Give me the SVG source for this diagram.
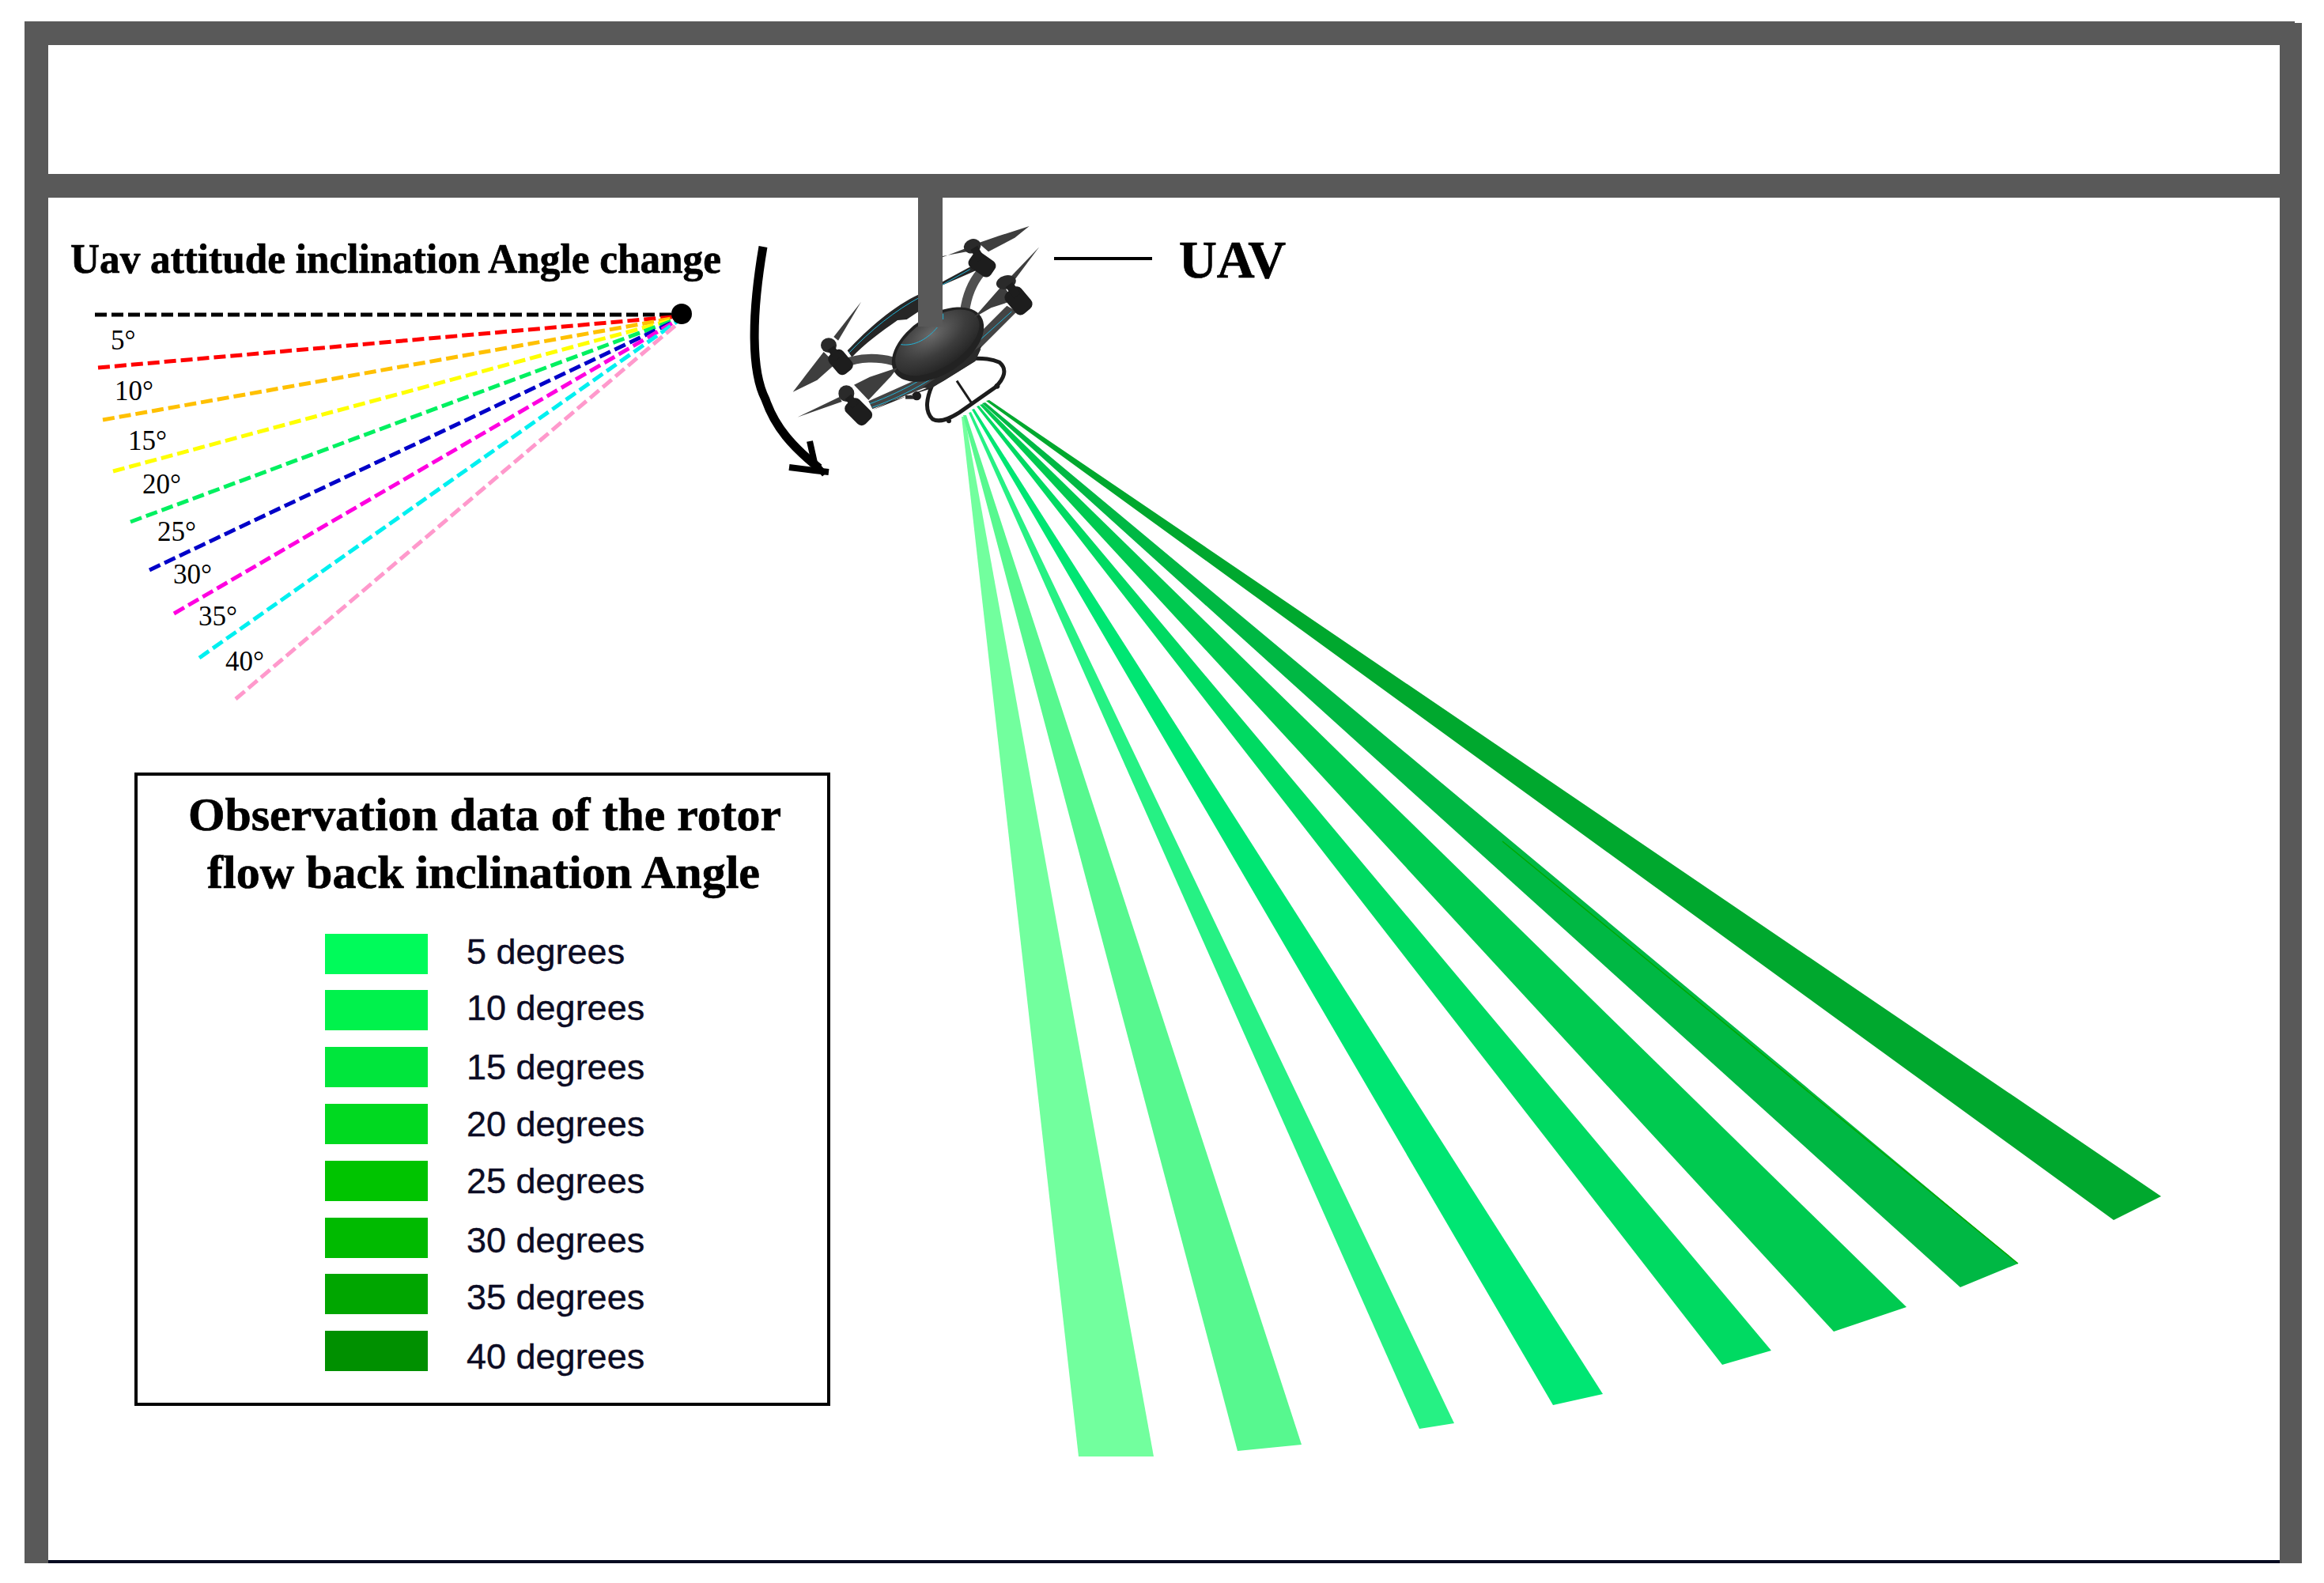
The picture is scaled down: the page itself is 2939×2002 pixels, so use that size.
<svg xmlns="http://www.w3.org/2000/svg" width="2939" height="2002" viewBox="0 0 2939 2002">
<style>
.serif{font-family:"Liberation Serif","Times New Roman",serif}
.bold{font-weight:700;fill:#000;stroke:#000;stroke-width:.7}
.deg{font-size:35px;fill:#000}
.leg{font-family:"Liberation Sans",Arial,sans-serif;font-size:45px;fill:#0c0c24;stroke:#0c0c24;stroke-width:.4}
.d{fill:none;stroke-width:5;stroke-dasharray:15 6}
.arm{fill:none;stroke-linecap:round}
.cy{fill:none;stroke:#1fb4d8;stroke-width:3}
.mt{fill:#1d1d1d}
.cap{fill:#2a2a2a}
.bl{fill:#3e3e3e}
</style>
<defs>
<radialGradient id="body" cx="0.5" cy="0.3" r="0.8"><stop offset="0" stop-color="#6a6a6a"/><stop offset="0.5" stop-color="#3c3c3c"/><stop offset="1" stop-color="#1e1e1e"/></radialGradient>
</defs>
<rect width="2939" height="2002" fill="#fff"/>
<g id="frame">
<rect x="61" y="1973" width="2822" height="4" fill="#060b20"/>
<path d="M31 27H2902V29H2911V1977H2883V250H1192V413H1161V250H61V1977H31ZM61 57V220H2883V57Z" fill="#595959" fill-rule="evenodd"/>
</g>
<g id="flow-beams">
<polygon points="1216,527 1220,527 1459,1842 1364,1842" fill="#72ff9e"/>
<polygon points="1218,525 1222,525 1646,1827 1565,1835" fill="#57f88f"/>
<polygon points="1225,522 1228,521 1839,1800 1795,1807" fill="#26f184"/>
<polygon points="1229,518 1232,517 2027,1763 1964,1777" fill="#00e673"/>
<polygon points="1235,514 1238,513 2240,1708 2178,1726" fill="#00da62"/>
<polygon points="1239,512 1243,511 2411,1653 2319,1684" fill="#00ca50"/>
<polygon points="1242,510 1246,509 2552,1598 2479,1628" fill="#00b844"/>
<line x1="1900" y1="1064" x2="2552" y2="1598" stroke="#00a800" stroke-width="1.5"/>
<polygon points="1247,507 1251,506 2733,1513 2673,1543" fill="#00a82e"/>
</g>
<g id="uav" transform="translate(1000 270) scale(0.33333)">
<g id="uav-arms">
<path d="M215 520C290 440 390 350 490 305L700 192L712 212L575 272L485 372L440 402L405 405C340 450 280 495 232 545Z" fill="#262626"/>
<path class="cy" d="M222 528C300 445 400 365 490 318L680 212"/>
<path class="arm" d="M205 568C260 545 330 545 385 560" stroke="#4b4b4b" stroke-width="32"/>
<path class="arm" d="M660 372C668 310 690 260 722 222" stroke="#505050" stroke-width="36"/>
<path d="M295 712L500 620L690 480L820 350L858 372L720 510L560 640L310 742Z" fill="#444"/>
<path d="M312 745L560 645L722 512L700 560L580 635L520 668L380 712Z" fill="#232323"/>
<path class="cy" d="M310 735C440 690 590 605 690 505L838 372"/>
<path class="cy" d="M300 722C430 675 590 585 680 490"/>
</g>
<g id="uav-gear">
<path d="M535 655C512 710 512 755 538 780C565 795 600 780 640 755L775 660C812 625 822 590 792 565C760 550 730 550 700 550" fill="none" stroke="#1c1c1c" stroke-width="15"/>
<path d="M630 635L690 725" stroke="#1c1c1c" stroke-width="9"/>
<circle cx="600" cy="787" r="9" fill="#1c1c1c"/><circle cx="783" cy="655" r="10" fill="#1c1c1c"/>
<circle cx="478" cy="692" r="17" fill="#1c1c1c"/><rect x="435" y="690" width="30" height="14" fill="#2a2a2a"/>
<path d="M500 660L530 665L700 560L725 500Z" fill="#2a2a2a"/>
</g>
<g id="uav-body">
<ellipse cx="558" cy="497" rx="195" ry="112" transform="rotate(-33 558 497)" fill="#222"/>
<ellipse cx="556" cy="490" rx="180" ry="94" transform="rotate(-33 556 490)" fill="url(#body)"/>
<path class="cy" d="M418 497C470 505 520 475 556 432M578 380V402"/>
</g>
<g id="uav-props">
<polygon class="bl" points="712,112 790,85 905,48 850,92 750,145"/>
<polygon class="bl" points="570,168 670,130 672,144 575,162"/>
<polygon class="bl" points="805,270 695,395 760,358 845,330"/>
<polygon class="bl" points="838,236 943,127 852,248"/>
<polygon class="bl" points="125,525 8,677 100,632 170,570"/>
<polygon class="bl" points="163,468 267,335 180,482"/>
<polygon class="bl" points="240,650 300,620 405,585 380,618 295,708"/>
<polygon class="bl" points="185,696 25,773 194,714"/>
</g>
<g id="uav-motors">
<rect x="676" y="158" width="100" height="70" rx="22" transform="rotate(35 726 193)" class="mt"/><ellipse cx="689" cy="124" rx="33" ry="27" transform="rotate(-20 689 124)" class="cap"/><path d="M695 130L722 175" stroke="#1d1d1d" stroke-width="30"/>
<rect x="812" y="293" width="104" height="76" rx="24" transform="rotate(50 864 331)" class="mt"/><ellipse cx="817" cy="261" rx="38" ry="26" transform="rotate(-15 817 261)" class="cap"/><path d="M828 270L860 312" stroke="#1d1d1d" stroke-width="32"/>
<rect x="142" y="530" width="94" height="68" rx="22" transform="rotate(50 189 564)" class="mt"/><ellipse cx="144" cy="500" rx="30" ry="28" class="cap"/><path d="M152 510L180 550" stroke="#1d1d1d" stroke-width="30"/>
<rect x="205" y="717" width="104" height="70" rx="22" transform="rotate(45 257 752)" class="mt"/><ellipse cx="211" cy="683" rx="30" ry="31" class="cap"/><path d="M218 695L245 730" stroke="#1d1d1d" stroke-width="30"/>
</g>
</g>
<g id="stem"><rect x="1161" y="240" width="31" height="173" fill="#595959"/></g>
<g id="uav-label">
<line x1="1333" y1="327" x2="1457" y2="327" stroke="#000" stroke-width="4"/>
<text class="serif bold" x="1491" y="351" font-size="68" textLength="135" lengthAdjust="spacingAndGlyphs">UAV</text>
</g>
<g id="rotation-arrow" fill="none" stroke="#000">
<path d="M965 312C950 400 950 470 968 505C980 540 1002 565 1036 592" stroke-width="11"/>
<path d="M1024 558L1030 585L1043 600" stroke-width="8"/>
<path d="M998 591L1030 595L1048 597" stroke-width="8"/>
</g>
<g id="attitude">
<text class="serif bold" x="89" y="345" font-size="52" textLength="823" lengthAdjust="spacingAndGlyphs">Uav attitude inclination Angle change</text>
<g id="attitude-lines">
<line class="d" x1="120" y1="398" x2="850" y2="398" stroke="#000"/>
<line class="d" x1="124" y1="465" x2="860" y2="400" stroke="#ff0000"/>
<line class="d" x1="130" y1="531" x2="860" y2="401" stroke="#ffc000"/>
<line class="d" x1="143" y1="596" x2="860" y2="402" stroke="#ffff00"/>
<line class="d" x1="165" y1="660" x2="860" y2="402" stroke="#00f060"/>
<line class="d" x1="189" y1="721" x2="860" y2="403" stroke="#0000c8"/>
<line class="d" x1="220" y1="776" x2="860" y2="403" stroke="#ff00e0"/>
<line class="d" x1="252" y1="832" x2="860" y2="404" stroke="#00f0f0"/>
<line class="d" x1="298" y1="884" x2="862" y2="405" stroke="#ff99cc"/>
</g>
<circle cx="862" cy="397" r="13" fill="#000"/>
<text class="serif deg" x="140" y="442">5°</text>
<text class="serif deg" x="145" y="506">10°</text>
<text class="serif deg" x="162" y="569">15°</text>
<text class="serif deg" x="180" y="624">20°</text>
<text class="serif deg" x="199" y="684">25°</text>
<text class="serif deg" x="219" y="738">30°</text>
<text class="serif deg" x="251" y="791">35°</text>
<text class="serif deg" x="285" y="848">40°</text>
</g>
<g id="legend">
<rect x="172" y="979" width="876" height="797" fill="#fff" stroke="#000" stroke-width="4"/>
<text class="serif bold" x="238" y="1050" font-size="60" textLength="750" lengthAdjust="spacingAndGlyphs">Observation data of the rotor</text>
<text class="serif bold" x="262" y="1123" font-size="60" textLength="699" lengthAdjust="spacingAndGlyphs">flow back inclination Angle</text>
<rect x="411" y="1181" width="130" height="51" fill="#00fb5a"/>
<rect x="411" y="1252" width="130" height="51" fill="#00f24c"/>
<rect x="411" y="1324" width="130" height="51" fill="#00e63c"/>
<rect x="411" y="1396" width="130" height="51" fill="#00d920"/>
<rect x="411" y="1468" width="130" height="51" fill="#00c400"/>
<rect x="411" y="1540" width="130" height="51" fill="#00ba00"/>
<rect x="411" y="1611" width="130" height="51" fill="#00a600"/>
<rect x="411" y="1683" width="130" height="51" fill="#009000"/>
<text class="leg" x="590" y="1219">5 degrees</text>
<text class="leg" x="590" y="1290">10 degrees</text>
<text class="leg" x="590" y="1365">15 degrees</text>
<text class="leg" x="590" y="1437">20 degrees</text>
<text class="leg" x="590" y="1509">25 degrees</text>
<text class="leg" x="590" y="1584">30 degrees</text>
<text class="leg" x="590" y="1656">35 degrees</text>
<text class="leg" x="590" y="1731">40 degrees</text>
</g>
</svg>
